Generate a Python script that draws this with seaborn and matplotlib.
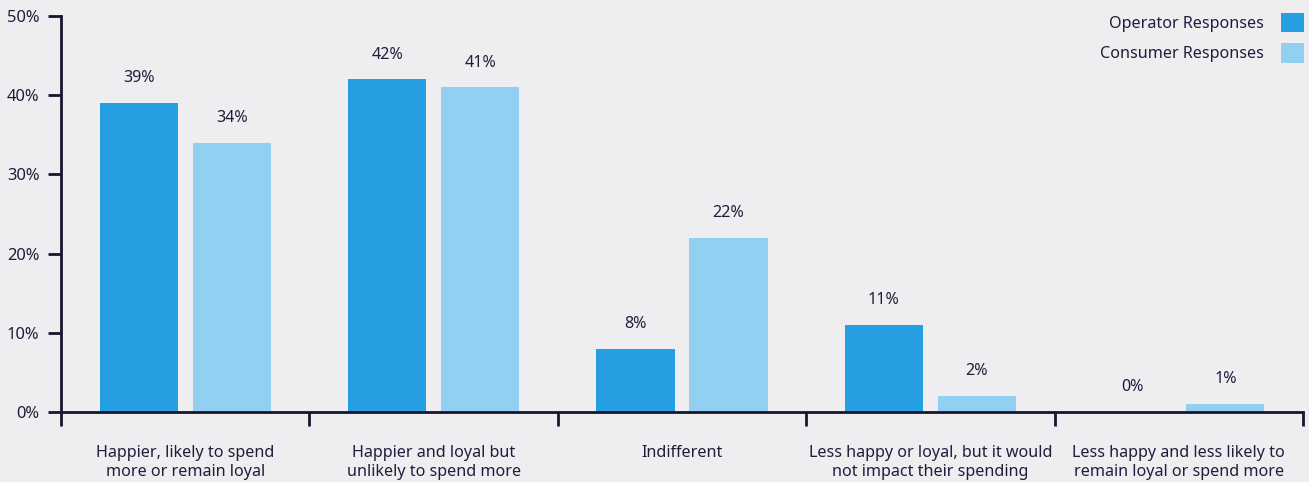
import matplotlib
matplotlib.use("Agg")
import matplotlib.pyplot as plt
import seaborn as sns
import pandas as pd
from matplotlib.patches import Patch

categories = [
    "Happier, likely to spend\nmore or remain loyal",
    "Happier and loyal but\nunlikely to spend more",
    "Indifferent",
    "Less happy or loyal, but it would\nnot impact their spending",
    "Less happy and less likely to\nremain loyal or spend more",
]
operator = [39, 42, 8, 11, 0]
consumer = [34, 41, 22, 2, 1]
series_names = ["Operator Responses", "Consumer Responses"]
yticks = [0, 10, 20, 30, 40, 50]

BG = "#EEEEF0"
INK = "#1E1E3C"
AXIS = "#16162E"
colors = ["#259FE1", "#93CFF0"]
FS = 11.6

sns.set_theme(style="white")
plt.rcParams["font.family"] = ["Noto Sans", "DejaVu Sans"]

df = pd.DataFrame({
    "Category": categories * 2,
    "Series": [series_names[0]] * len(categories) + [series_names[1]] * len(categories),
    "Value": operator + consumer,
})

fig = plt.figure(figsize=(13.09, 4.82), dpi=100, facecolor=BG)
ax = fig.add_axes([61 / 1309, 70 / 482, (1303 - 61) / 1309, (412 - 16) / 482])
ax.set_facecolor(BG)

sns.barplot(data=df, x="Category", y="Value", hue="Series", palette=colors,
            width=0.75, gap=0.16, ax=ax, legend=False, saturation=1, errorbar=None,
            linewidth=0, edgecolor="none")

for cont in ax.containers:
    ax.bar_label(cont, labels=[f"{int(round(b.get_height()))}%" for b in cont],
                 padding=12, fontsize=FS, color=INK)

ax.set_xlim(-0.5, len(categories) - 0.5)
ax.set_ylim(0, 50)
ax.set_yticks(yticks)
ax.set_yticklabels([f"{v}%" for v in yticks])
ax.set_xlabel("")
ax.set_ylabel("")

# category separators as minor ticks
ax.set_xticks([i - 0.5 for i in range(len(categories) + 1)], minor=True)
ax.tick_params(axis="x", which="major", bottom=False, length=0, pad=24,
               labelsize=FS, labelcolor=INK)
ax.tick_params(axis="x", which="minor", bottom=True, length=10, width=2,
               color=AXIS, direction="out")
ax.tick_params(axis="y", which="major", length=9.5, width=2, color=AXIS, pad=6,
               labelsize=FS + 0.3, labelcolor=INK, left=True)

for s in ["top", "right"]:
    ax.spines[s].set_visible(False)
for s in ["left", "bottom"]:
    ax.spines[s].set_color(AXIS)
    ax.spines[s].set_linewidth(2)

handles = [Patch(facecolor=c, edgecolor="none") for c in colors]
leg = ax.legend(handles, series_names, loc="upper right", bbox_to_anchor=(1.0125, 1.045),
                frameon=False, markerfirst=False, handlelength=1.45, handleheight=1.45,
                handletextpad=1.05, labelspacing=0.72, fontsize=FS)
for t in leg.get_texts():
    t.set_color(INK)

fig.savefig("out.png", dpi=100, facecolor=BG)
